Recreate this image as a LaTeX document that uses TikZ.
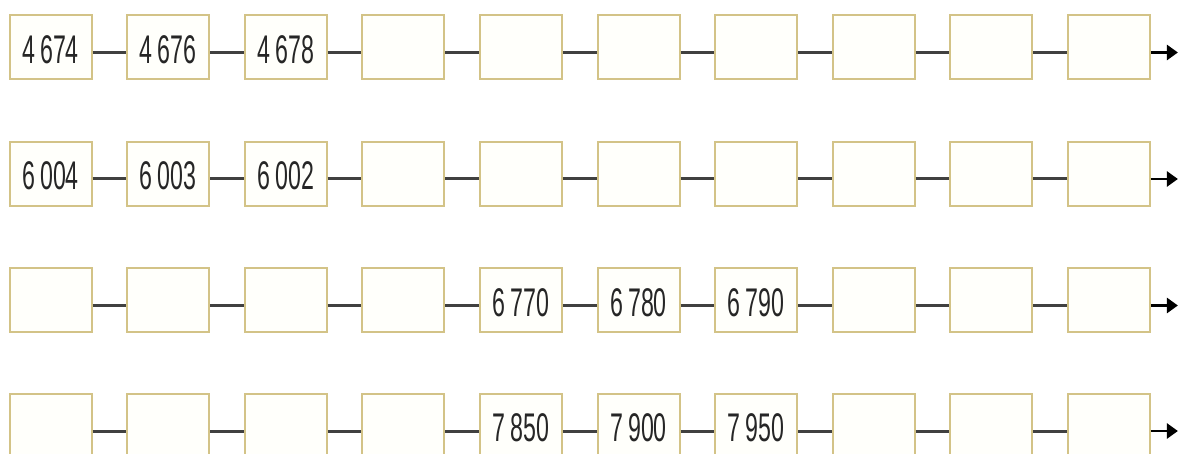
\documentclass[tikz,border=0pt]{standalone}
\usepackage{fontspec}
\newfontfamily\numfont[FakeStretch=0.58]{Liberation Sans}
\usetikzlibrary{arrows.meta}
\definecolor{boxline}{HTML}{D3C387}
\definecolor{boxfill}{HTML}{FFFFFB}
\definecolor{conn}{HTML}{404040}
\tikzset{
  numbox/.style={draw=boxline, fill=boxfill, line width=2pt, minimum width=82pt, minimum height=64pt, inner sep=0pt},
  lbl/.style={inner sep=0pt, font=\numfont\fontsize{40}{40}\selectfont, text=black!85},
  link/.style={draw=conn, line width=3pt},
  endarrow/.style={draw=black, line width=2.6pt, -{Triangle[length=11pt,width=15pt]}}
}
\begin{document}
\begin{tikzpicture}[x=1pt,y=1pt]
\useasboundingbox (0,0) rectangle (1178,-454);
\fill[white] (0,0) rectangle (1178,-454);
\foreach \r/\yy in {1/47.5,2/174,3/300.5,4/426}{
  \foreach \c in {1,...,10}{
    \node[numbox] (b\r-\c) at ({50.5+117.6*(\c-1)},-\yy) {};
  }
  \foreach \c [evaluate=\c as \n using int(\c+1)] in {1,...,9}{
    \draw[link] ([yshift=-5pt]b\r-\c.east) -- ([yshift=-5pt]b\r-\n.west);
  }
  \coordinate (end\r) at ([yshift=-5pt,xshift=27pt]b\r-10.east);
  \draw[endarrow] ([yshift=-5pt]b\r-10.east) -- (end\r);
}
\node[lbl] (t1-1) at ([yshift=-2pt]b1-1) {4\hspace{0.13em}674};
\node[lbl] (t1-2) at ([yshift=-2pt]b1-2) {4\hspace{0.13em}676};
\node[lbl] (t1-3) at ([yshift=-2pt]b1-3) {4\hspace{0.13em}678};
\node[lbl] (t2-1) at ([yshift=-2pt]b2-1) {6\hspace{0.13em}004};
\node[lbl] (t2-2) at ([yshift=-2pt]b2-2) {6\hspace{0.13em}003};
\node[lbl] (t2-3) at ([yshift=-2pt]b2-3) {6\hspace{0.13em}002};
\node[lbl] (t3-5) at ([yshift=-2pt]b3-5) {6\hspace{0.13em}770};
\node[lbl] (t3-6) at ([yshift=-2pt]b3-6) {6\hspace{0.13em}780};
\node[lbl] (t3-7) at ([yshift=-2pt]b3-7) {6\hspace{0.13em}790};
\node[lbl] (t4-5) at ([yshift=-2pt]b4-5) {7\hspace{0.13em}850};
\node[lbl] (t4-6) at ([yshift=-2pt]b4-6) {7\hspace{0.13em}900};
\node[lbl] (t4-7) at ([yshift=-2pt]b4-7) {7\hspace{0.13em}950};
\end{tikzpicture}
\end{document}
